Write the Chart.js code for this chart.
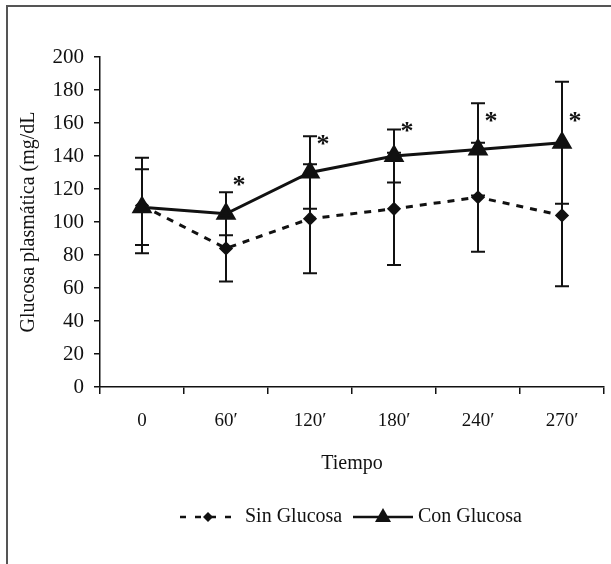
<!DOCTYPE html>
<html>
<head>
<meta charset="utf-8">
<script src="https://cdn.jsdelivr.net/npm/chart.js@4/dist/chart.umd.min.js"></script>
<style>
  html, body { margin: 0; padding: 0; background: #fff; }
  #wrap { position: relative; width: 611px; height: 564px; }
  #frame { position: absolute; left: 6px; top: 5px; right: 0; bottom: 0;
           border-left: 2px solid #555; border-top: 2px solid #555; }
  canvas { position: absolute; left: 0; top: 0; }
</style>
</head>
<body>
<div id="wrap">
  <div id="frame"></div>
  <canvas id="chart" width="611" height="564"></canvas>
</div>
<script>
// --- Data ---
const labels = ['0', '60\u2032', '120\u2032', '180\u2032', '240\u2032', '270\u2032'];
const conGlucosa = [109, 105, 130, 140, 144, 148];
const conError   = [23, 13, 22, 16, 28, 37];
const sinGlucosa = [110, 84, 102, 108, 115, 104];
const sinError   = [29, 20, 33, 34, 33, 43];
// height (mg/dL) where the significance asterisk sits
const starY      = [null, 125, 150, 158, 164, 164];

const FONT = "'Liberation Serif', 'Times New Roman', serif";

// --- error bars + asterisks ---
const errorBars = {
  id: 'errorBars',
  afterDatasetsDraw(chart) {
    const ctx = chart.ctx;
    const x = chart.scales.x, y = chart.scales.y;
    const sets = [[sinGlucosa, sinError], [conGlucosa, conError]];
    ctx.save();
    ctx.strokeStyle = '#111';
    ctx.lineWidth = 2;
    for (const [vals, errs] of sets) {
      vals.forEach((v, i) => {
        const px = x.getPixelForValue(i);
        const top = y.getPixelForValue(v + errs[i]);
        const bot = y.getPixelForValue(v - errs[i]);
        ctx.beginPath();
        ctx.moveTo(px, top); ctx.lineTo(px, bot);
        ctx.moveTo(px - 7, top); ctx.lineTo(px + 7, top);
        ctx.moveTo(px - 7, bot); ctx.lineTo(px + 7, bot);
        ctx.stroke();
      });
    }
    ctx.fillStyle = '#111';
    ctx.font = 'bold 26px ' + FONT;
    ctx.textAlign = 'center';
    ctx.textBaseline = 'middle';
    starY.forEach((s, i) => {
      if (s === null) return;
      ctx.fillText('*', x.getPixelForValue(i) + 13, y.getPixelForValue(s) + 6);
    });
    ctx.restore();
  }
};

// --- legend drawn like the original (line + marker + text) ---
const lineLegend = {
  id: 'lineLegend',
  afterDraw(chart) {
    const ctx = chart.ctx;
    const yy = 517;
    ctx.save();
    ctx.font = '20px ' + FONT;
    ctx.fillStyle = '#111';
    ctx.strokeStyle = '#111';
    ctx.textBaseline = 'middle';
    // Sin Glucosa
    ctx.lineWidth = 2.5;
    ctx.setLineDash([6, 9]);
    ctx.beginPath(); ctx.moveTo(180, yy); ctx.lineTo(237, yy); ctx.stroke();
    ctx.setLineDash([]);
    ctx.beginPath();
    ctx.moveTo(208, yy - 5); ctx.lineTo(213, yy); ctx.lineTo(208, yy + 5); ctx.lineTo(203, yy);
    ctx.closePath(); ctx.fill();
    ctx.fillText('Sin Glucosa', 245, yy);
    // Con Glucosa
    ctx.beginPath(); ctx.moveTo(353, yy); ctx.lineTo(413, yy); ctx.stroke();
    ctx.beginPath();
    ctx.moveTo(383, yy - 9); ctx.lineTo(391, yy + 5); ctx.lineTo(375, yy + 5);
    ctx.closePath(); ctx.fill();
    ctx.fillText('Con Glucosa', 418, yy);
    ctx.restore();
  }
};

new Chart(document.getElementById('chart'), {
  type: 'line',
  data: {
    labels: labels,
    datasets: [
      {
        label: 'Con Glucosa',
        data: conGlucosa,
        borderColor: '#111',
        backgroundColor: '#111',
        borderWidth: 3,
        pointStyle: 'triangle',
        pointRadius: 9,
        pointHoverRadius: 9,
        tension: 0
      },
      {
        label: 'Sin Glucosa',
        data: sinGlucosa,
        borderColor: '#111',
        backgroundColor: '#111',
        borderWidth: 3,
        borderDash: [7, 7],
        pointStyle: 'rectRot',
        pointRadius: 5,
        pointHoverRadius: 5,
        tension: 0
      }
    ]
  },
  options: {
    responsive: false,
    animation: false,
    layout: { autoPadding: false, padding: { top: 57, right: 7, bottom: 0, left: 0 } },
    plugins: { legend: { display: false }, tooltip: { enabled: false } },
    scales: {
      x: {
        offset: true,
        grid: { display: true, drawOnChartArea: false, offset: true, tickLength: 7, color: '#111', lineWidth: 1.5 },
        border: { color: '#111', width: 1.5 },
        ticks: { color: '#111', padding: 16, font: { family: FONT, size: 19 } },
        title: { display: true, text: 'Tiempo', color: '#111', font: { family: FONT, size: 20 }, padding: { top: 0, bottom: 88 } },
        afterFit(scale) { scale.height = 177; scale.paddingRight = 0; scale.paddingLeft = 0; }
      },
      y: {
        min: 0, max: 200,
        ticks: { stepSize: 20, color: '#111', padding: 10, font: { family: FONT, size: 21 } },
        grid: { display: true, drawOnChartArea: false, tickLength: 6, color: '#111', lineWidth: 1.5 },
        border: { color: '#111', width: 1.5 },
        title: { display: true, text: 'Glucosa plasmática (mg/dL', color: '#111', font: { family: FONT, size: 20 }, padding: { top: 17, bottom: 0 } },
        afterFit(scale) { scale.width = 100; }
      }
    }
  },
  plugins: [errorBars, lineLegend]
});
</script>
</body>
</html>
